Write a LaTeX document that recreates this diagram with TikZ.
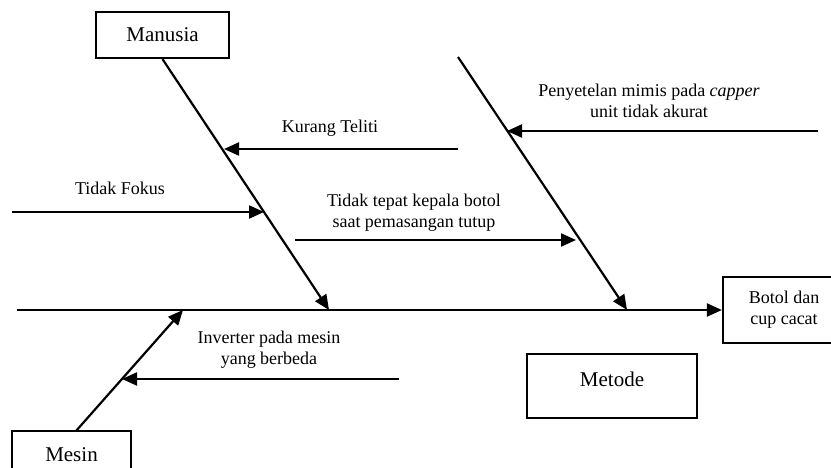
\documentclass[tikz,border=0pt]{standalone}
\usepackage{fontspec}
\setmainfont{Liberation Serif}
\usetikzlibrary{arrows.meta}
\begin{document}
\begin{tikzpicture}[x=1pt,y=-1pt,
  bone/.style={line width=2.2pt,-{Triangle[length=15pt,width=13pt]}},
  box/.style={draw,line width=2.2pt,inner sep=0pt,font=\fontsize{21}{24}\selectfont},
  lbl/.style={font=\fontsize{18}{21}\selectfont,align=center,inner sep=0pt}]
\useasboundingbox (0,0) rectangle (831,468);

% boxes
\node[box,minimum width=133pt,minimum height=46pt] (manusia) at (162.5,35) {Manusia};
\node[box,minimum width=122pt,minimum height=66pt,font=\fontsize{18}{21}\selectfont,align=center] (botol) at (784,310) {Botol dan\\cup cacat};
\node[box,minimum width=119pt,minimum height=48pt] (mesin) at (71.5,455) {Mesin};
\node[box,minimum width=170pt,minimum height=64pt] (metode) at (612,386) {};
\node[inner sep=0pt,font=\fontsize{21}{24}\selectfont] (metodetxt) at (612,379) {Metode};

% coordinates
\coordinate (spinestart) at (17,310);
\coordinate (mantip) at (329,310);
\coordinate (mettop) at (458,57);
\coordinate (mettip) at (627,310);
\coordinate (mesbase) at (76,431);
\coordinate (mestip) at (183,310);

\coordinate (kt1) at (458,149);
\coordinate (kt2) at (224,149);
\coordinate (tf1) at (12,212);
\coordinate (tf2) at (264,212);
\coordinate (tt1) at (295,240);
\coordinate (tt2) at (576,240);
\coordinate (pm1) at (818,131);
\coordinate (pm2) at (507,131);
\coordinate (iv1) at (399,379);
\coordinate (iv2) at (122,379);

% spine
\draw[bone] (spinestart) -- (botol.west);

% main bones
\draw[bone] (manusia.south) -- (mantip);
\draw[bone] (mettop) -- (mettip);
\draw[bone] (mesbase) -- (mestip);

% branch arrows
\draw[bone] (kt1) -- (kt2);
\draw[bone] (tf1) -- (tf2);
\draw[bone] (tt1) -- (tt2);
\draw[bone] (pm1) -- (pm2);
\draw[bone] (iv1) -- (iv2);

% labels
\node[lbl] (ktlbl) at (330,128) {Kurang Teliti};
\node[lbl] (tflbl) at (120,188) {Tidak Fokus};
\node[lbl] (ttlbl) at (414,213) {Tidak tepat kepala botol\\saat pemasangan tutup};
\node[lbl] (pmlbl) at (649,101) {Penyetelan mimis pada \textit{capper}\\unit tidak akurat};
\node[lbl] (ivlbl) at (269,350) {Inverter pada mesin\\yang berbeda};
\end{tikzpicture}
\end{document}
